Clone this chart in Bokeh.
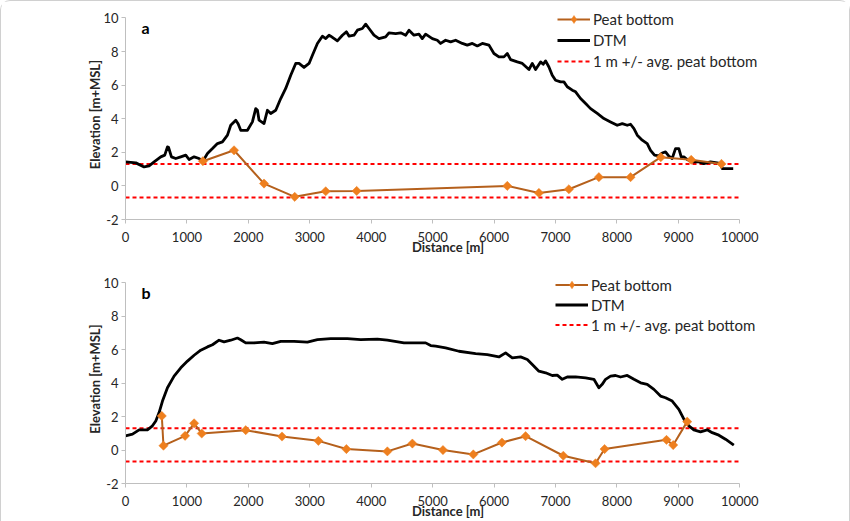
import math
from bokeh.plotting import figure
from bokeh.layouts import column
from bokeh.models import Label, Legend, LegendItem, FixedTicker, Range1d
from bokeh.embed import file_html
from bokeh.resources import INLINE

# ---------------- data ----------------
x_ticks = [0, 1000, 2000, 3000, 4000, 5000, 6000, 7000, 8000, 9000, 10000]
y_ticks = [-2, 0, 2, 4, 6, 8, 10]
band_x = [0, 10000]
band_a = [1.31, -0.69]
band_b = [1.31, -0.69]

peat_a_x = [1260, 1767, 2255, 2755, 3259, 3763, 6215, 6730, 7218, 7706, 8222, 8715, 9209, 9702]
peat_a_y = [1.47, 2.12, 0.14, -0.65, -0.32, -0.30, 0.00, -0.42, -0.20, 0.52, 0.52, 1.71, 1.55, 1.31]

dtm_a_x = [0, 168, 303, 384, 466, 574, 639, 683, 700, 748, 818, 900, 981, 1035, 1117, 1198,
           1253, 1334, 1416, 1497, 1578, 1660, 1713, 1795, 1833, 1876, 1985, 2066, 2120, 2148,
           2174, 2255, 2310, 2364, 2446, 2527, 2608, 2690, 2771, 2825, 2906, 2988, 3043, 3124,
           3205, 3260, 3313, 3340, 3449, 3531, 3596, 3640, 3720, 3775, 3856, 3910, 3964, 4045,
           4126, 4235, 4289, 4398, 4480, 4561, 4615, 4696, 4777, 4831, 4886, 4995, 5076, 5130,
           5211, 5293, 5374, 5483, 5564, 5646, 5727, 5809, 5917, 5998, 6079, 6161, 6215, 6269,
           6378, 6460, 6568, 6622, 6676, 6757, 6800, 6839, 6893, 6947, 7001, 7083, 7137, 7191,
           7273, 7327, 7408, 7490, 7571, 7680, 7788, 7896, 8005, 8087, 8168, 8222, 8277, 8331,
           8412, 8493, 8547, 8612, 8682, 8737, 8791, 8845, 8899, 8954, 9008, 9046, 9090, 9144,
           9225, 9334, 9415, 9524, 9632, 9686, 9714, 9795, 9893]
dtm_a_y = [1.43, 1.37, 1.13, 1.19, 1.43, 1.73, 1.83, 2.32, 2.30, 1.73, 1.63, 1.73, 1.83, 1.57, 1.73, 1.63,
           1.43, 1.93, 2.22, 2.52, 2.62, 3.02, 3.61, 3.91, 3.70, 3.31, 3.31, 3.81, 4.60, 4.50,
           3.91, 3.71, 4.50, 4.31, 4.50, 5.20, 5.80, 6.59, 7.29, 7.29, 7.05, 7.29, 7.78, 8.48,
           8.91, 8.77, 8.97, 8.91, 8.63, 8.97, 9.17, 8.91, 8.97, 9.27, 9.37, 9.63, 9.37, 8.97,
           8.77, 8.87, 9.11, 9.07, 9.11, 8.97, 9.27, 8.97, 9.03, 8.77, 9.03, 8.77, 8.67, 8.48,
           8.67, 8.57, 8.67, 8.48, 8.38, 8.48, 8.33, 8.48, 8.38, 7.88, 7.68, 7.68, 7.88, 7.52,
           7.38, 7.29, 6.93, 7.29, 6.93, 7.38, 7.24, 7.44, 7.08, 6.59, 6.29, 6.19, 6.19, 5.90,
           5.70, 5.60, 5.20, 4.90, 4.60, 4.31, 4.01, 3.81, 3.61, 3.71, 3.61, 3.67, 3.41, 3.02,
           2.72, 2.52, 2.12, 1.83, 1.79, 1.96, 2.02, 1.77, 1.63, 2.22, 2.22, 1.73, 1.73, 1.57,
           1.43, 1.43, 1.33, 1.43, 1.37, 1.33, 1.03, 1.03, 1.03]

peat_b_x = [591, 618, 970, 1117, 1241, 1957, 2548, 3140, 3596, 4263, 4670, 5168, 5662, 6128,
            6513, 7127, 7652, 7799, 8807, 8916, 9144]
peat_b_y = [2.04, 0.26, 0.85, 1.60, 0.99, 1.19, 0.81, 0.55, 0.06, -0.08, 0.39, 0.00, -0.26, 0.45,
            0.83, -0.34, -0.79, 0.06, 0.61, 0.30, 1.70]

dtm_b_x = [0, 114, 222, 276, 357, 439, 493, 547, 602, 683, 791, 900, 1009, 1117, 1225, 1334,
           1416, 1523, 1605, 1713, 1822, 1876, 1957, 2093, 2255, 2391, 2527, 2744, 2961, 3124,
           3341, 3612, 3829, 4100, 4263, 4533, 4696, 4886, 4968, 5049, 5211, 5428, 5700, 5890,
           6079, 6188, 6297, 6432, 6541, 6622, 6730, 6839, 6947, 7028, 7110, 7191, 7327, 7490,
           7625, 7706, 7760, 7815, 7896, 7977, 8059, 8168, 8277, 8385, 8493, 8602, 8710, 8791,
           8900, 9008, 9090, 9171, 9252, 9361, 9470, 9551, 9659, 9767, 9903]
dtm_b_y = [0.85, 0.95, 1.21, 1.21, 1.21, 1.45, 1.74, 2.24, 2.93, 3.73, 4.42, 4.92, 5.32, 5.67, 5.97, 6.17,
           6.30, 6.57, 6.47, 6.57, 6.70, 6.60, 6.41, 6.41, 6.45, 6.37, 6.50, 6.50, 6.45, 6.61,
           6.67, 6.67, 6.61, 6.64, 6.57, 6.41, 6.41, 6.41, 6.25, 6.21, 6.11, 5.91, 5.77, 5.71,
           5.57, 5.81, 5.51, 5.57, 5.42, 5.12, 4.72, 4.62, 4.46, 4.48, 4.23, 4.37, 4.38, 4.32,
           4.23, 3.73, 3.93, 4.23, 4.42, 4.46, 4.37, 4.46, 4.23, 4.02, 3.93, 3.63, 3.23, 3.13,
           2.93, 2.44, 1.85, 1.45, 1.21, 1.09, 1.21, 1.04, 0.89, 0.65, 0.30]

legend_labels = ["Peat bottom", "DTM", "1 m +/- avg. peat bottom"]
x_title = "Distance [m]"
y_title = "Elevation [m+MSL]"

# ---------------- style ----------------
FONT = "Lato"
TXT = "#262626"
AXIS = "#BFBFBF"
PEAT_LINE = "#B5601C"
PEAT_MARK = "#EE7F1E"
RED = "#FF0000"


def make_panel(tag, peat_x, peat_y, dtm_x, dtm_y, band, height, top, bottom,
               legend_vx, legend_vy, row_h):
    p = figure(width=848, height=height, output_backend="svg", toolbar_location=None,
               x_range=Range1d(0, 10500), y_range=Range1d(-2, 10.5),
               min_border_left=124, min_border_right=79, min_border_top=top,
               min_border_bottom=bottom)
    p.outline_line_color = None
    p.grid.visible = False
    p.background_fill_color = "white"
    p.border_fill_color = "white"

    for ax in (p.xaxis[0], p.yaxis[0]):
        ax.axis_line_color = AXIS
        ax.major_tick_line_color = AXIS
        ax.minor_tick_line_color = None
        ax.major_tick_in = 0
        ax.major_tick_out = 4
        ax.major_label_text_font = FONT
        ax.major_label_text_font_size = "13px"
        ax.major_label_text_color = TXT
        ax.axis_label_text_font = FONT
        ax.axis_label_text_font_style = "bold"
        ax.axis_label_text_font_size = "13px"
        ax.axis_label_text_color = TXT
    p.xaxis.ticker = FixedTicker(ticks=x_ticks)
    p.xaxis.bounds = (0, 10000)
    p.xaxis.major_label_standoff = 8
    p.xaxis.axis_label = x_title
    p.xaxis.axis_label_standoff = -6
    p.yaxis.ticker = FixedTicker(ticks=y_ticks)
    p.yaxis.bounds = (-2, 10)
    p.yaxis.major_label_standoff = 3
    p.yaxis.major_label_overrides = {-2: "-2"}
    p.yaxis.axis_label = y_title
    p.yaxis.axis_label_standoff = -3

    r_hi = p.line(band_x, [band[0], band[0]], line_color=RED, line_width=2, line_dash="4 3")
    p.line(band_x, [band[1], band[1]], line_color=RED, line_width=2, line_dash="4 3")
    r_dtm = p.line(dtm_x, dtm_y, line_color="black", line_width=2.8, line_join="round")
    r_pl = p.line(peat_x, peat_y, line_color=PEAT_LINE, line_width=2)
    p.scatter(peat_x, peat_y, marker="square", angle=math.pi / 4, size=6.5,
              fill_color=PEAT_MARK, line_color=PEAT_MARK, line_width=0.5)
    # hidden twin used only for the legend symbol (upright diamond)
    r_lm = p.scatter(peat_x, peat_y, marker="diamond", size=10, visible=False,
                     fill_color=PEAT_MARK, line_color=PEAT_MARK, line_width=0.5)

    legend = Legend(items=[
        LegendItem(label=legend_labels[0], renderers=[r_pl, r_lm]),
        LegendItem(label=legend_labels[1], renderers=[r_dtm]),
        LegendItem(label=legend_labels[2], renderers=[r_hi]),
    ], location=(legend_vx, legend_vy), padding=0, margin=0, spacing=1,
        glyph_width=33, glyph_height=row_h, label_height=row_h, label_standoff=3,
        label_text_font=FONT, label_text_font_size="15px", label_text_color=TXT,
        background_fill_alpha=0, border_line_alpha=0)
    p.add_layout(legend, "center")

    p.add_layout(Label(x=260, y=9.4, text=tag, text_font=FONT, text_font_style="bold",
                       text_font_size="16px", text_color="black", text_baseline="middle"))
    return p


pa = make_panel("a", peat_a_x, peat_a_y, dtm_a_x, dtm_a_y, band_a, 256, 8, 38, 432, 148, 20)
pb = make_panel("b", peat_b_x, peat_b_y, dtm_b_x, dtm_b_y, band_b, 264, 17, 37, 430, 149, 19)

layout = column(pa, pb, spacing=0,
                styles={"border-top": "1px solid #D0D0D0", "border-left": "1px solid #D0D0D0",
                        "border-right": "1px solid #D0D0D0", "border-radius": "10px 10px 0 0",
                        "background": "white"})

open("out.html", "w").write(file_html(layout, INLINE))
